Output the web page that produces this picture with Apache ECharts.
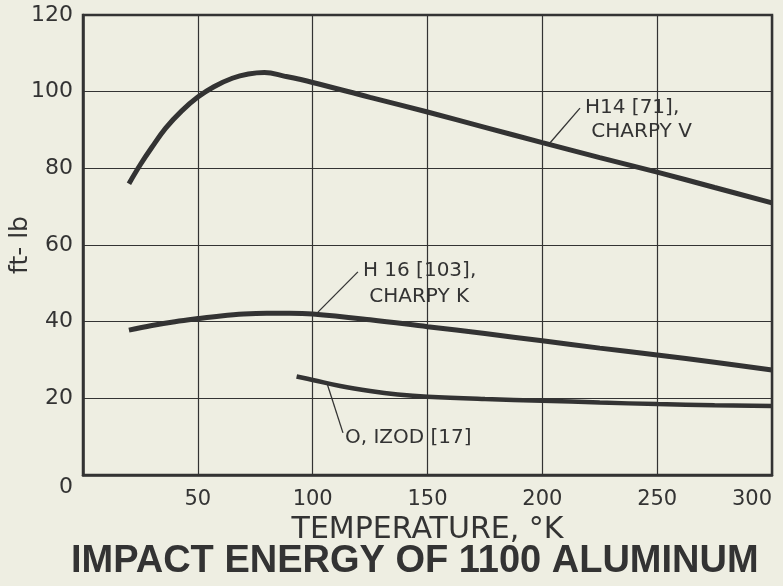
<!DOCTYPE html>
<html>
<head>
<meta charset="utf-8">
<script src="https://cdn.jsdelivr.net/npm/echarts@6/dist/echarts.min.js"></script>
<style>
html,body{margin:0;padding:0;background:#eeeee2;}
#c{width:783px;height:586px;}
</style>
</head>
<body>
<div id="c"></div>
<script>
// ---- data ----
const xTicks = [0, 50, 100, 150, 200, 250, 300];
const yTicks = [0, 20, 40, 60, 80, 100, 120];

const h14T = [20, 25, 30, 36, 43, 50, 57, 65, 72, 79, 88, 100, 125, 150, 175, 200, 225, 250, 275, 300];
const h14V = [76, 81, 85.5, 90.5, 95, 98.6, 101.3, 103.5, 104.6, 105, 104, 102.4, 98.5, 94.7, 90.7, 86.7, 82.8, 79, 75, 71];

const h16T = [20, 30, 40, 50, 60, 70, 80, 90, 100, 125, 150, 175, 200, 225, 250, 275, 300];
const h16V = [37.8, 39, 40, 40.8, 41.5, 42, 42.2, 42.2, 42, 40.5, 38.7, 36.9, 35, 33.1, 31.3, 29.4, 27.4];

const izodT = [93, 100, 112, 125, 137, 150, 175, 200, 225, 250, 275, 300];
const izodV = [25.7, 24.8, 23.2, 21.9, 21, 20.4, 19.8, 19.4, 18.9, 18.5, 18.2, 18];

// leader lines (data coordinates) and their labels
const leaderH14 = [[203.3, 86.6], [216.4, 95.7]];
const leaderH16 = [[102.3, 42.5], [119.7, 53]];
const leaderIzod = [[106.2, 24], [113.2, 11]];
const labelH14 = 'H14 [71],\n CHARPY V';
const labelH16 = 'H 16 [103],\n CHARPY K';
const labelIzod = 'O, IZOD [17]';

const title = 'IMPACT ENERGY OF 1100 ALUMINUM';
const xName = 'TEMPERATURE, °K';
const yName = 'ft- lb';

const ink = '#333333';
const font = 'DejaVu Sans';

function pairs(t, v) { return t.map((x, i) => [x, v[i]]); }

function leader(pts, text, pos, lh) {
  return {
    type: 'line', silent: true, symbol: 'circle', symbolSize: 0, showSymbol: true, animation: false,
    lineStyle: { color: ink, width: 1.3 },
    itemStyle: { color: ink },
    labelLayout: { hideOverlap: false },
    data: [pts[0], {
      value: pts[1],
      label: {
        show: true, position: pos, formatter: text,
        color: ink, fontFamily: font, fontSize: 20, lineHeight: lh, align: 'left', verticalAlign: 'top'
      }
    }]
  };
}

const chart = echarts.init(document.getElementById('c'));
chart.setOption({
  backgroundColor: '#eeeee2',
  animation: false,
  title: {
    text: title, left: 66, top: 538,
    textStyle: { fontFamily: 'Liberation Sans', fontWeight: 'bold', fontSize: 38, color: ink }
  },
  grid: { left: 83, right: 11, top: 15, bottom: 111, show: true, borderColor: ink, borderWidth: 2.5, backgroundColor: 'transparent', containLabel: false, outerBoundsMode: 'none' },
  xAxis: {
    type: 'value', min: xTicks[0], max: xTicks[xTicks.length - 1], interval: 50,
    name: xName, nameLocation: 'middle', nameGap: 35,
    nameTextStyle: { fontFamily: font, fontSize: 30, color: ink },
    axisLine: { lineStyle: { color: ink, width: 2.5 } },
    axisTick: { show: false },
    axisLabel: {
      color: ink, fontFamily: font, fontSize: 21, margin: 14,
      formatter: v => (v === 0 ? '' : String(v)),
      alignMaxLabel: 'right'
    },
    splitLine: { show: true, lineStyle: { color: ink, width: 1.2 } }
  },
  yAxis: {
    type: 'value', min: yTicks[0], max: yTicks[yTicks.length - 1], interval: 20,
    name: yName, nameLocation: 'middle', nameGap: 50, nameMoveOverlap: false,
    nameTextStyle: { fontFamily: font, fontSize: 25, color: ink },
    axisLine: { show: true, lineStyle: { color: ink, width: 2.5 } },
    axisTick: { show: false },
    axisLabel: {
      color: ink, fontFamily: font, fontSize: 22, margin: 10,
      formatter: v => (v === 0 ? '{z|0}' : String(v)),
      rich: { z: { fontFamily: font, fontSize: 22, color: ink, padding: [24, 0, 0, 0] } }
    },
    splitLine: { show: true, lineStyle: { color: ink, width: 1.2 } }
  },
  series: [
    { type: 'line', smooth: 0.4, symbol: 'none', lineStyle: { color: ink, width: 5 }, data: pairs(h14T, h14V) },
    { type: 'line', smooth: 0.4, symbol: 'none', lineStyle: { color: ink, width: 5 }, data: pairs(h16T, h16V) },
    { type: 'line', smooth: 0.4, symbol: 'none', lineStyle: { color: ink, width: 4.5 }, data: pairs(izodT, izodV) },
    leader(leaderH14, labelH14, [5, -12], 24),
    leader(leaderH16, labelH16, [5, -14], 26),
    leader(leaderIzod, labelIzod, [2, -7], 24)
  ]
});
</script>
</body>
</html>
